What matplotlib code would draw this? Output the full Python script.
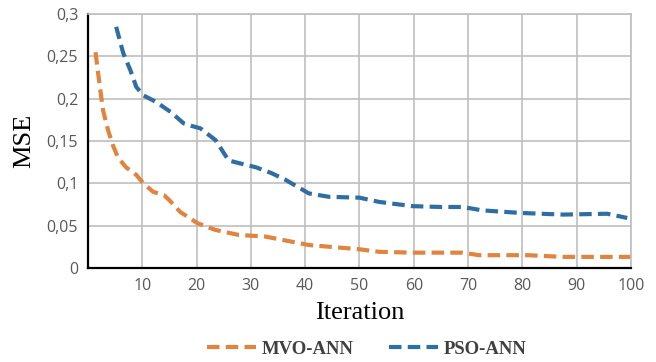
import numpy as np
import matplotlib
matplotlib.use('Agg')
import matplotlib.pyplot as plt
from matplotlib.ticker import FixedLocator, FuncFormatter

# значения
mvo_iter = [1.4, 2.2, 2.8, 3.7, 4.6, 5.5, 7.0, 8.9, 10.2, 12.0, 14.0, 15.0, 17.0, 18.5, 20.1, 23.4, 27.7,
            32.7, 37.5, 40.7, 44.4, 50.0, 53.6, 59.7, 65.0, 69.0, 72.0, 81.0, 87.4, 92.0, 98.5, 100.0]
mvo_mse = [0.255, 0.214, 0.186, 0.163, 0.145, 0.131, 0.119, 0.110, 0.100, 0.090, 0.086, 0.080, 0.066, 0.060,
           0.053, 0.045, 0.039, 0.037, 0.031, 0.027, 0.025, 0.022, 0.019, 0.018, 0.018, 0.018, 0.015, 0.015,
           0.013, 0.013, 0.013, 0.013]

pso_iter = [5.2, 6.5, 7.8, 8.9, 10.2, 12.6, 15.3, 17.6, 19.0, 20.7, 23.5, 25.9, 27.7, 30.9, 33.8, 36.4,
            40.7, 44.4, 50.0, 53.6, 59.7, 65.0, 69.0, 72.6, 79.5, 87.4, 95.6, 99.3]
pso_mse = [0.285, 0.254, 0.234, 0.214, 0.204, 0.196, 0.184, 0.171, 0.168, 0.165, 0.151, 0.127, 0.124, 0.119,
           0.112, 0.104, 0.088, 0.084, 0.083, 0.078, 0.073, 0.072, 0.072, 0.068, 0.065, 0.063, 0.064, 0.059]

x_ticks = [10, 20, 30, 40, 50, 60, 70, 80, 90, 100]
y_ticks = [0, 0.05, 0.1, 0.15, 0.2, 0.25, 0.3]

ORANGE = '#E0843E'
BLUE = '#2F6EA5'


def comma(v, pos):
    s = ('%g' % round(v, 2))
    return s.replace('.', ',')


def main():
    fig = plt.figure(figsize=(6.56, 3.62), dpi=100)
    ax = fig.add_axes([0.134, 0.26, 0.828, 0.701])

    kw = {'lw': 3, 'dashes': (3, 1.5)}
    ax.plot(mvo_iter, mvo_mse, color=ORANGE, label='MVO-ANN', **kw)
    ax.plot(pso_iter, pso_mse, color=BLUE, label='PSO-ANN', **kw)

    ax.set_xlim(0, 100)
    ax.set_ylim(0, 0.3)
    ax.xaxis.set_major_locator(FixedLocator(x_ticks))
    ax.yaxis.set_major_locator(FixedLocator(y_ticks))
    ax.yaxis.set_major_formatter(FuncFormatter(comma))

    # сетка и рамка
    ax.grid(True, color='#BFBFBF', lw=1.2)
    ax.set_axisbelow(True)
    for s in ('top', 'right'):
        ax.spines[s].set_color('#BFBFBF')
        ax.spines[s].set_linewidth(1.2)
    for s in ('left', 'bottom'):
        ax.spines[s].set_color('black')
        ax.spines[s].set_linewidth(1.6)

    ax.tick_params(length=0, pad=7, labelsize=11.5, labelcolor='#595959')
    for lab in ax.get_xticklabels() + ax.get_yticklabels():
        lab.set_family('Open Sans')

    ax.set_xlabel('Iteration', family='Liberation Serif', fontsize=19, labelpad=6)
    ax.set_ylabel('MSE', family='Liberation Serif', fontsize=19, labelpad=8)

    leg = ax.legend(loc='upper center', bbox_to_anchor=(0.514, -0.22), ncol=2, frameon=False,
                    handlelength=2.6, columnspacing=1.9, handletextpad=0.3,
                    prop={'family': 'Liberation Serif', 'weight': 'bold', 'size': 13.5})
    for t in leg.get_texts():
        t.set_color('#404040')

    fig.savefig('out.png', dpi=100)


if __name__ == "__main__":
    main()
